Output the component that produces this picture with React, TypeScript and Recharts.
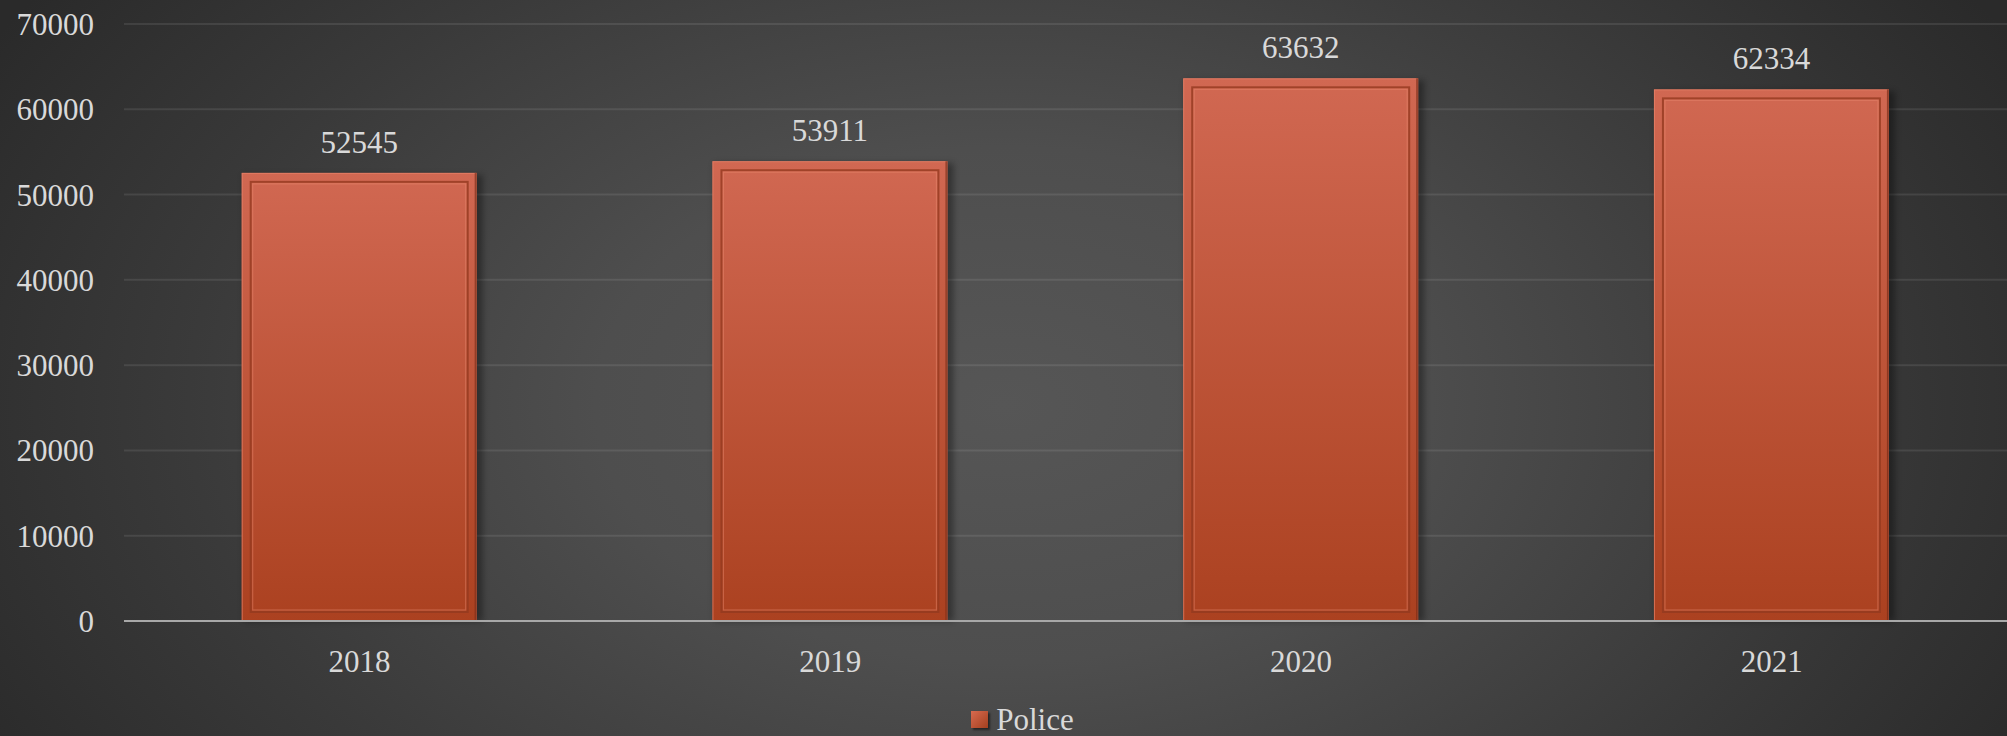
import { Bar, BarChart, CartesianGrid, LabelList, Legend, XAxis, YAxis } from "recharts"

const years = ["2018", "2019", "2020", "2021"]
const police = [52545, 53911, 63632, 62334]
const yTicks = [0, 10000, 20000, 30000, 40000, 50000, 60000, 70000]

const data = years.map((year, i) => ({ year, Police: police[i] }))

const FONT = '"Liberation Serif", "DejaVu Serif", serif'
const TEXT = "#d9d9d9"

// bevelled bar like the office "frame" style
const FramedBar = (props: any) => {
 const { x, y, width, height } = props
 if (!height || height <= 0) return null
 const inset = 9
 return (
  <g>
   <rect x={x + 2} y={y + 2} width={width + 4} height={height - 2} fill="#000" opacity={0.35} filter="url(#barShadow)" />
   <rect x={x} y={y} width={width} height={height} fill="url(#barFill)" />
   <rect x={x + 0.5} y={y + 0.5} width={width - 1} height={height - 1} fill="none" stroke="#e8836a" strokeOpacity={0.7} />
   <rect x={x + inset} y={y + inset} width={width - inset * 2} height={height - inset * 2} fill="none" stroke="#93391f" strokeOpacity={0.8} strokeWidth={2} />
   <rect x={x + inset + 2} y={y + inset + 2} width={width - inset * 2 - 4} height={height - inset * 2 - 4} fill="none" stroke="#e88a6e" strokeOpacity={0.45} strokeWidth={1.2} />
   <rect x={x + width - 2} y={y} width={2} height={height} fill="#6e2410" opacity={0.6} />
  </g>
 )
}

const renderLegend = () => (
 <div style={{ display: "flex", alignItems: "center", justifyContent: "center", height: 40, paddingLeft: 38, paddingTop: 6, boxSizing: "border-box" }}>
  <span style={{ width: 17, height: 17, background: "linear-gradient(135deg, #d86a4f, #a3401f)", boxShadow: "2px 2px 2px rgba(0,0,0,0.5)", marginRight: 8 }} />
  <span style={{ fontFamily: FONT, fontSize: 31, color: TEXT, lineHeight: "31px" }}>Police</span>
 </div>
)

export default function App() {
 return (
  <div
   style={{
    width: 2007,
    height: 736,
    position: "relative",
    overflow: "hidden",
    background: "radial-gradient(ellipse 58% 100% at 50% 55%, #565656 0%, #4e4e4e 35%, #3a3a3a 70%, #2a2a2a 100%)",
   }}
  >
   <style>{`body{margin:0}`}</style>
   <BarChart width={2007} height={736} data={data} margin={{ top: 24, right: 0, left: 0, bottom: 0 }} barCategoryGap="25%">
    <defs>
     <linearGradient id="barFill" x1="0" y1="0" x2="0" y2="1">
      <stop offset="0%" stopColor="#d16852" />
      <stop offset="100%" stopColor="#ab4120" />
     </linearGradient>
     <filter id="barShadow" x="-20%" y="-20%" width="140%" height="140%">
      <feGaussianBlur stdDeviation="3" />
     </filter>
    </defs>
    <CartesianGrid vertical={false} stroke="#ffffff" strokeOpacity={0.09} strokeWidth={2} />
    <XAxis
     dataKey="year"
     height={75}
     tickSize={0}
     tickMargin={29}
     axisLine={{ stroke: "#a8a8a8", strokeWidth: 2 }}
     tick={{ fill: TEXT, fontSize: 31, fontFamily: FONT }}
    />
    <YAxis
     width={124}
     domain={[0, 70000]}
     ticks={yTicks}
     tickSize={0}
     tickMargin={30}
     axisLine={false}
     tick={{ fill: TEXT, fontSize: 31, fontFamily: FONT }}
    />
    <Legend content={renderLegend} wrapperStyle={{ height: 40, left: 0, width: 2007 }} />
    <Bar dataKey="Police" shape={<FramedBar />} isAnimationActive={false}>
     <LabelList dataKey="Police" position="top" offset={20} fill={TEXT} fontSize={31} fontFamily={FONT} />
    </Bar>
   </BarChart>
  </div>
 )
}
